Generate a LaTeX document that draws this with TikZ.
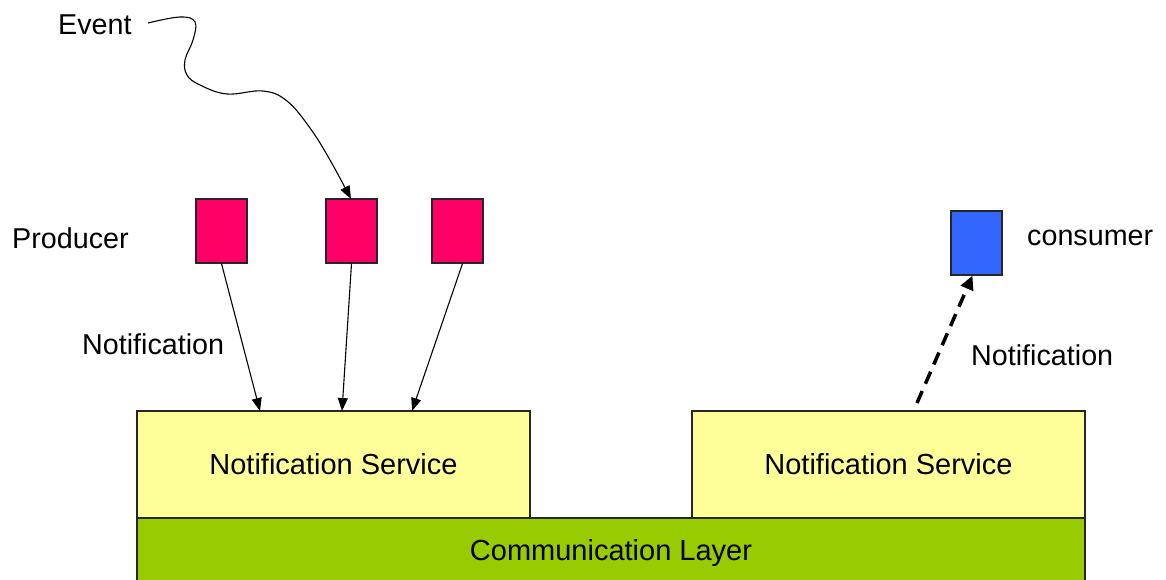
\documentclass[tikz,border=0pt]{standalone}
\usepackage{fontspec}
\setmainfont{Liberation Sans}
\usetikzlibrary{arrows.meta}
\definecolor{prodred}{HTML}{FF0066}
\definecolor{consblue}{HTML}{3366FF}
\definecolor{svcyellow}{HTML}{FFFF99}
\definecolor{layergreen}{HTML}{99CC00}
\tikzset{
  lbl/.style={font=\fontsize{28.7}{34}\selectfont, inner sep=0pt, anchor=west},
  agent/.style={draw=black!85, line width=1.2pt, minimum width=51pt, minimum height=64pt, inner sep=0pt},
  svc/.style={draw=black!85, line width=1.2pt, fill=svcyellow, minimum width=393pt, minimum height=107pt, inner sep=0pt, font=\fontsize{29}{34}\selectfont},
  tip/.style={-{Triangle[length=13pt,width=10pt]}, line width=1.1pt},
}
\begin{document}
\begin{tikzpicture}[x=1pt,y=-1pt]
\useasboundingbox (0,0) rectangle (1166,580);
% communication layer and services
\node[draw=black!85, line width=1.2pt, fill=layergreen, minimum width=948pt, minimum height=70pt, inner sep=0pt,
      font=\fontsize{29}{34}\selectfont] (layer) at (611,553) {\raisebox{2pt}{Communication Layer}};
\node[svc] (ns1) at (333.5,464.5) {\raisebox{-2pt}{Notification Service}};
\node[svc] (ns2) at (888.5,464.5) {\raisebox{-2pt}{Notification Service}};
% producers and consumer
\node[agent, fill=prodred] (p1) at (221.5,231) {};
\node[agent, fill=prodred] (p2) at (351.5,231) {};
\node[agent, fill=prodred] (p3) at (457.5,231) {};
\node[agent, fill=consblue] (c1) at (976.5,243) {};
% labels
\node[lbl] (evt) at (58,25) {Event};
\node[lbl] (prod) at (12,238) {Producer};
\node[lbl] (nl) at (82,344) {Notification};
\node[lbl] (cons) at (1027,238) {consumer};
\node[lbl] (nr) at (971,355) {Notification};
% connector end points on the service boxes
\coordinate (in1) at (260,411);
\coordinate (in2) at (342,411);
\coordinate (in3) at (412,411);
\coordinate (out1) at (917,403);
\coordinate (evs) at (148,23);
\coordinate (eve) at (351,199);
% event
\draw[tip] plot[smooth, tension=0.65] coordinates {(evs) (180,17) (195,22) (193,40) (185,60) (187,75) (200,85) (227,94) (263,91) (287,101) (310,128) (330,160) (eve)};
% notifications
\draw[tip] (p1.south) -- (in1);
\draw[tip] (p2.south) -- (in2);
\draw[tip] ([xshift=5pt]p3.south) -- (in3);
\draw[-{Triangle[length=14pt,width=13pt]}, line width=3.5pt, dash pattern=on 13pt off 8pt] (out1) -- ([xshift=-4pt]c1.south);
\end{tikzpicture}
\end{document}
